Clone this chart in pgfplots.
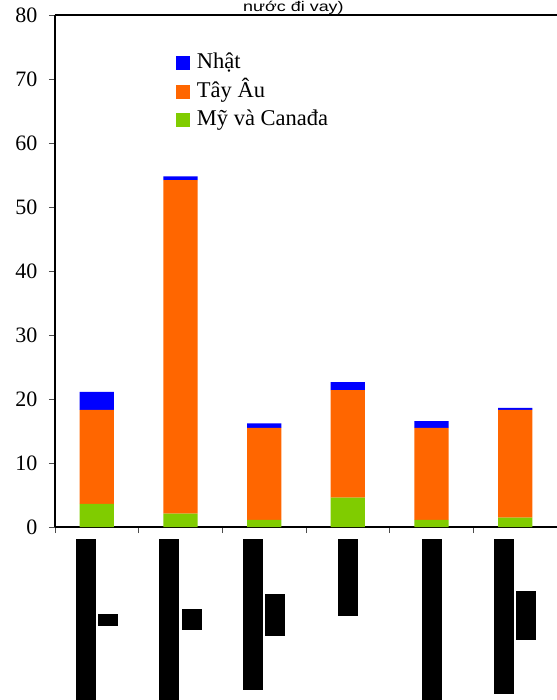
\documentclass[border=0pt]{standalone}
\usepackage{pgfplots}
\pgfplotsset{compat=1.18}
\usepackage{fontspec}
\setmainfont{Liberation Serif}
\newfontfamily\arialf{Liberation Sans}
\definecolor{cblue}{HTML}{0000FF}
\definecolor{corange}{HTML}{FF6600}
\definecolor{cgreen}{HTML}{80CC00}
\begin{document}
\begin{tikzpicture}
\begin{axis}[name=ax, scale only axis, width=502pt, height=512pt,
  clip=false,
  ybar stacked, bar width=0.41,
  xmin=-0.5, xmax=5.5, ymin=0, ymax=80,
  ytick={0,10,...,80},
  xtick={-0.5,0.5,...,5.5},
  x tick label as interval,
  xticklabels={
    {\rule[-161pt]{20pt}{161pt}\hspace{2pt}\rule[-87pt]{20pt}{12pt}},
    {\rule[-161pt]{20pt}{161pt}\hspace{2pt}\rule[-91pt]{20pt}{21pt}},
    {\rule[-151pt]{20pt}{151pt}\hspace{2pt}\rule[-97pt]{20pt}{42pt}},
    {\rule[-77pt]{20pt}{77pt}},
    {\rule[-161pt]{20pt}{161pt}},
    {\rule[-155pt]{20pt}{155pt}\hspace{2pt}\rule[-101pt]{20pt}{49pt}}},
  xticklabel style={anchor=north, inner sep=0pt, outer sep=0pt, yshift=-6pt},
  yticklabel={\rmfamily\fontsize{22}{26}\selectfont\pgfmathprintnumber{\tick}},
  yticklabel style={xshift=-8pt},
  /pgf/number format/assume math mode=true,
  axis lines=left, axis line style={-, line width=1.2pt, black},
  tick align=outside, major tick length=6pt,
  tick style={black!70, line width=0.8pt},
  reverse legend,
  legend cell align=left,
  legend style={at={(rel axis cs:0.241,0.926)}, anchor=north west, draw=none, fill=none,
    inner sep=0pt, outer sep=0pt, row sep=7.5pt,
    font=\fontsize{22.5}{27}\selectfont,
    nodes={inner sep=0pt, text height=16pt, text depth=5pt},
    /tikz/every odd column/.append style={column sep=7pt}},
  legend image code/.code={\fill[#1] (0pt,-7pt) rectangle (14pt,7pt);},
]
\addplot[fill=cgreen, draw=none] coordinates {(0,3.6) (1,2.1) (2,1.1) (3,4.6) (4,1.1) (5,1.45)};
\addplot[fill=corange, draw=none] coordinates {(0,14.7) (1,52.1) (2,14.4) (3,16.8) (4,14.4) (5,16.85)};
\addplot[fill=cblue, draw=none] coordinates {(0,2.8) (1,0.6) (2,0.7) (3,1.25) (4,1.05) (5,0.3)};
\legend{Mỹ và Canađa, Tây Âu, Nhật}
\draw[black, line width=1.5pt] (rel axis cs:0,1) -- (rel axis cs:1,1);
\draw[black!15, line width=0.8pt] (rel axis cs:1,0) -- (rel axis cs:1,1);
\node[font=\arialf\fontsize{14}{16}\selectfont, anchor=base, xscale=1.28, yshift=3.5pt] at (rel axis cs:0.475,1) {nước đi vay)};
\end{axis}
\pgfresetboundingbox
\path[use as bounding box] ([shift={(-55pt,-173pt)}]ax.south west) rectangle ([yshift=15pt]ax.north east);
\end{tikzpicture}
\end{document}
